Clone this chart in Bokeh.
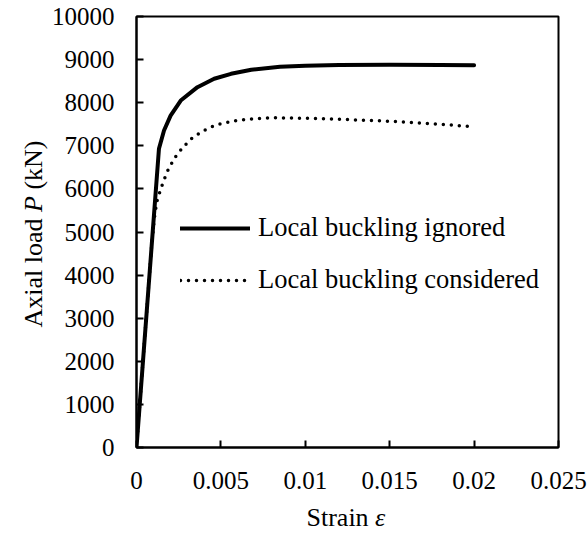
import math
from bokeh.plotting import figure
from bokeh.layouts import row, column
from bokeh.models import Range1d, FixedTicker, Label, Legend, LegendItem
from bokeh.embed import file_html
from bokeh.resources import INLINE

# Load-strain curves (strain, axial load in kN)
strain_ignored = [0, 0.00133, 0.00163, 0.00202, 0.00262, 0.00361, 0.0046, 0.0056,
                  0.0068, 0.0085, 0.01, 0.012, 0.015, 0.018, 0.02]
load_ignored = [0, 6930, 7355, 7700, 8050, 8360, 8555, 8670,
                8765, 8835, 8860, 8875, 8880, 8875, 8870]

strain_considered = [0, 0.0009, 0.00105, 0.0012, 0.0014, 0.0016, 0.0019, 0.0023,
                     0.0027, 0.0032, 0.0037, 0.0043, 0.005, 0.006, 0.007, 0.008,
                     0.01, 0.012, 0.015, 0.0175, 0.0198]
load_considered = [0, 4700, 5300, 5700, 5950, 6180, 6470, 6740,
                   6940, 7150, 7285, 7420, 7512, 7590, 7630, 7650,
                   7640, 7615, 7570, 7510, 7450]

series_labels = ["Local buckling ignored", "Local buckling considered"]

x_ticks = [0, 0.005, 0.01, 0.015, 0.02, 0.025]
x_tick_labels = ["0", "0.005", "0.01", "0.015", "0.02", "0.025"]
y_ticks = [0, 1000, 2000, 3000, 4000, 5000, 6000, 7000, 8000, 9000, 10000]

FONT = "Liberation Serif"

p = figure(width=540, height=503, output_backend="svg", toolbar_location=None,
           x_range=Range1d(0, 0.025), y_range=Range1d(0, 10000),
           min_border_left=88, min_border_right=30,
           min_border_top=16, min_border_bottom=56, frame_align=False)
p.background_fill_color = "white"
p.border_fill_color = "white"
p.outline_line_color = "black"
p.outline_line_width = 2
p.grid.visible = False

for ax in (p.xaxis[0], p.yaxis[0]):
    ax.axis_line_width = 2
    ax.axis_line_color = "black"
    ax.major_tick_in = 7
    ax.major_tick_out = 0
    ax.major_tick_line_width = 2
    ax.minor_tick_line_color = None
    ax.major_label_text_font = FONT
    ax.major_label_text_font_size = "25px"
    ax.major_label_text_color = "black"

p.xaxis[0].ticker = FixedTicker(ticks=x_ticks)
p.xaxis[0].major_label_overrides = {t: s for t, s in zip(x_ticks, x_tick_labels)}
p.xaxis[0].major_label_standoff = 24
p.yaxis[0].ticker = FixedTicker(ticks=y_ticks)
p.yaxis[0].major_label_standoff = 22

r1 = p.line(strain_ignored, load_ignored, line_color="black", line_width=4,
            line_cap="round", line_join="round")
r2 = p.line(strain_considered, load_considered, line_color="black", line_width=3.5,
            line_dash="0 8", line_cap="round", line_join="round")

legend = Legend(items=[LegendItem(label=series_labels[0], renderers=[r1]),
                       LegendItem(label=series_labels[1], renderers=[r2])],
                location=(44, 152), orientation="vertical",
                padding=0, margin=0, spacing=21,
                glyph_width=70, glyph_height=26, label_height=26,
                label_standoff=8,
                border_line_alpha=0, background_fill_alpha=0,
                label_text_font=FONT, label_text_font_size="26.5px",
                label_text_color="black")
p.add_layout(legend)


def title_panel(w, h):
    f = figure(width=w, height=h, output_backend="svg", toolbar_location=None,
               title=None, x_range=Range1d(0, w), y_range=Range1d(0, h),
               x_axis_type=None, y_axis_type=None,
               min_border_left=0, min_border_right=0,
               min_border_top=0, min_border_bottom=0, frame_align=False)
    f.outline_line_color = None
    f.grid.visible = False
    f.background_fill_color = "white"
    f.border_fill_color = "white"
    return f


lbl_kw = dict(text_font=FONT, text_font_size="26px", text_color="black")

# Vertical axis title "Axial load P (kN)", italic P; pieces placed end to end
left = title_panel(48, 503)
ang = math.pi / 2
left.add_layout(Label(x=33, y=176, text="Axial load", angle=ang,
                      text_align="left", text_baseline="middle", **lbl_kw))
left.add_layout(Label(x=33, y=291.5, text="P", angle=ang, text_font_style="italic",
                      text_align="left", text_baseline="middle", **lbl_kw))
left.add_layout(Label(x=33, y=313.9, text="(kN)", angle=ang,
                      text_align="left", text_baseline="middle", **lbl_kw))

# Horizontal axis title "Strain ε", italic ε
bottom = title_panel(588, 30)
bottom.add_layout(Label(x=306, y=16, text="Strain", text_align="left",
                        text_baseline="alphabetic", **lbl_kw))
bottom.add_layout(Label(x=374.6, y=16, text="\u03b5", text_font_style="italic",
                        text_align="left", text_baseline="alphabetic", **lbl_kw))

layout = column(row(left, p, spacing=0), bottom, spacing=0)

open("out.html", "w").write(file_html(layout, INLINE))
